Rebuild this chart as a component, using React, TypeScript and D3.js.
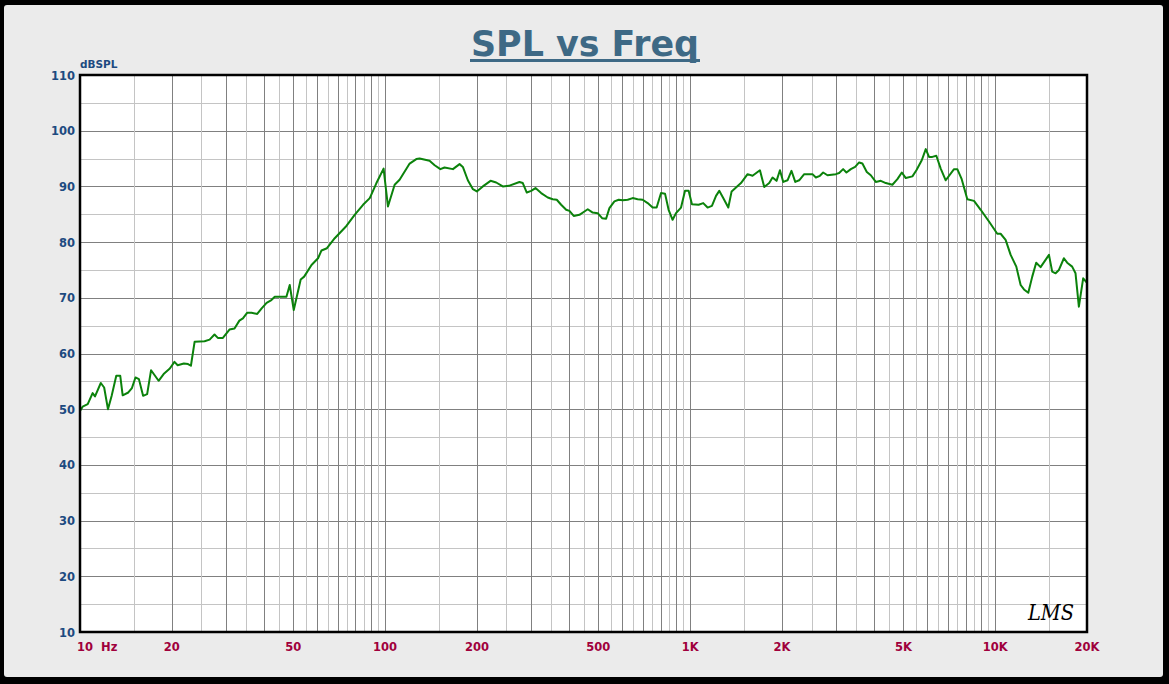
import React from "react";
import * as d3 from "d3";

const freqHz = [
  10, 10.2, 10.6, 11.0, 11.2, 11.7, 12.0, 12.35, 12.7, 13.15, 13.55, 13.8, 14.4, 14.8, 15.2, 15.6, 16.1, 16.6, 17.1, 18.1,
  18.8, 19.7, 20.4, 20.9, 21.9, 22.6, 23.1, 23.75, 25.6, 26.6, 27.6, 28.3, 29.4, 30.9, 32.1, 33.3, 34.2, 35.3, 36.5, 38.1,
  39.4, 40.9, 42.4, 43.5, 45.8, 47.5, 48.7, 50.2, 52.9, 54.3, 57.4, 60.3, 61.9, 64.5, 68.4, 74.7, 79.5, 84.7, 89.1, 93.7,
  98.9, 102.2, 107.5, 111.6, 120.4, 126.6, 129.8, 139.9, 145.4, 151.8, 156.7, 166.9, 175.5, 179.9, 186.8, 194.1, 199.9, 209.2, 221.7, 231.4,
  243.2, 254.5, 275.8, 282.8, 291.5, 301.3, 311.2, 324.9, 341.5, 354.6, 365.5, 377.8, 392.4, 402.2, 415.4, 433.7, 450.4, 461.8, 479.4, 497.8,
  514.6, 530.4, 543.8, 564.7, 583.3, 601.2, 624.3, 648.2, 673.1, 699, 725.8, 753.7, 776.8, 802.9, 827.5, 850.2, 876.2, 899, 933.7, 962.3,
  988.8, 1014, 1066, 1104, 1141, 1179, 1216, 1246, 1284, 1334, 1368, 1414, 1468, 1543, 1602, 1694, 1750, 1817, 1863, 1920,
  1970, 2020, 2086, 2149, 2211, 2278, 2366, 2518, 2584, 2663, 2730, 2820, 3004, 3080, 3174, 3254, 3364, 3475, 3581, 3671,
  3795, 3911, 4061, 4218, 4380, 4604, 4781, 4943, 5094, 5354, 5518, 5746, 5922, 6071, 6224, 6414, 6630, 6885, 7331, 7515,
  7768, 8104, 8524, 8965, 9544, 10160, 10420, 10820, 11240, 11730, 12120, 12430, 12840, 13230, 13630, 14090, 15010, 15380, 15780, 16180,
  16800, 17220, 17880, 18340, 18810, 19430, 20000,
];
const splDb = [
  49.7, 50.45, 50.9, 52.9, 52.3, 54.7, 53.9, 50.0, 52.4, 56.0, 56.0, 52.5, 53.0, 53.8, 55.7, 55.4, 52.4, 52.7, 57.0, 55.1,
  56.3, 57.3, 58.5, 57.9, 58.2, 58.1, 57.8, 62.1, 62.2, 62.5, 63.4, 62.8, 62.8, 64.3, 64.5, 65.9, 66.3, 67.3, 67.3, 67.1,
  68.1, 69.1, 69.6, 70.2, 70.2, 70.2, 72.3, 67.8, 73.3, 73.8, 75.9, 77.1, 78.5, 78.9, 80.7, 82.9, 84.9, 86.7, 87.9, 90.6,
  93.2, 86.4, 90.3, 91.2, 94.1, 94.9, 95.0, 94.6, 93.8, 93.1, 93.4, 93.1, 94.0, 93.5, 91.1, 89.5, 89.1, 90.0, 91.0, 90.7,
  90.0, 90.1, 90.8, 90.6, 88.9, 89.2, 89.7, 88.8, 88.0, 87.7, 87.6, 86.7, 85.8, 85.6, 84.7, 84.9, 85.5, 85.9, 85.3, 85.2,
  84.3, 84.2, 86.1, 87.3, 87.6, 87.5, 87.6, 87.9, 87.7, 87.6, 87.0, 86.2, 86.2, 88.8, 88.7, 85.8, 84.0, 85.2, 86.2, 89.2,
  89.2, 86.8, 86.7, 87.0, 86.2, 86.5, 88.3, 89.2, 87.9, 86.2, 89.1, 89.8, 90.6, 92.2, 91.9, 92.9, 89.9, 90.6, 91.6, 91.0,
  92.9, 90.8, 91.1, 92.8, 90.8, 91.1, 92.2, 92.2, 91.6, 91.9, 92.5, 92.0, 92.2, 92.4, 93.1, 92.5, 93.1, 93.5, 94.3, 94.1,
  92.6, 92.0, 90.8, 91.0, 90.6, 90.3, 91.3, 92.5, 91.5, 91.8, 92.9, 94.7, 96.7, 95.3, 95.3, 95.5, 93.2, 91.1, 93.1, 93.1,
  91.3, 87.7, 87.4, 85.8, 83.7, 81.5, 81.5, 80.4, 77.7, 75.6, 72.3, 71.5, 70.9, 73.8, 76.3, 75.5, 77.7, 74.7, 74.4, 75.0,
  77.1, 76.3, 75.6, 74.4, 68.4, 73.5, 72.7,
];

const xTickValues = [10, 20, 50, 100, 200, 500, 1000, 2000, 5000, 10000, 20000];
const xTickLabels = ["10  Hz", "20", "50", "100", "200", "500", "1K", "2K", "5K", "10K", "20K"];
const yTickValues = [10, 20, 30, 40, 50, 60, 70, 80, 90, 100, 110];
const decades = [10, 100, 1000, 10000];
const multipliers = [1, 1.5, 2, 2.5, 3, 3.5, 4, 4.5, 5, 5.5, 6, 6.5, 7, 7.5, 8, 8.5, 9, 9.5];

const W = 1169;
const H = 684;
const L = 80, R = 1087, T = 75, B = 632;

export default function App() {
  const x = d3.scaleLog().domain([10, 20000]).range([L, R]);
  const y = d3.scaleLinear().domain([10, 110]).range([B, T]);

  const vLines: { v: number; major: boolean }[] = [];
  decades.forEach((dec) => {
    multipliers.forEach((m) => {
      const v = dec * m;
      if (v > 10 && v < 20000) vLines.push({ v, major: Number.isInteger(m) });
    });
  });
  const hLines: { v: number; major: boolean }[] = [];
  for (let v = 15; v < 110; v += 5) hLines.push({ v, major: v % 10 === 0 });

  const pts: [number, number][] = freqHz.map((f, i) => [f, splDb[i]]);
  const line = d3
    .line<[number, number]>()
    .x((d) => x(d[0]))
    .y((d) => y(d[1]));

  const labelFont = "'DejaVu Sans', Verdana, sans-serif";

  return (
    <svg width={W} height={H} style={{ position: "absolute", left: 0, top: 0, display: "block" }}>
      <rect x={0} y={0} width={W} height={H} fill="#000" />
      <rect x={4} y={5} width={W - 10} height={H - 12} fill="#ebebeb" rx={3} />

      <text
        x={585}
        y={56}
        textAnchor="middle"
        fontFamily={labelFont}
        fontWeight="bold"
        fontSize={36}
        fill="#3e6985"
        textLength={228}
        lengthAdjust="spacingAndGlyphs"
      >
        SPL vs Freq
      </text>
      <rect x={470} y={59} width={230} height={3} fill="#3e6985" />

      <rect x={L} y={T} width={R - L} height={B - T} fill="#fff" />

      {hLines.map((h) => (
        <line
          key={"h" + h.v}
          x1={L}
          x2={R}
          y1={Math.round(y(h.v)) + 0.5}
          y2={Math.round(y(h.v)) + 0.5}
          stroke={h.major ? "#808080" : "#c4c4c4"}
          strokeWidth={1}
        />
      ))}
      {vLines.map((v) => (
        <line
          key={"v" + v.v}
          x1={Math.round(x(v.v)) + 0.5}
          x2={Math.round(x(v.v)) + 0.5}
          y1={T}
          y2={B}
          stroke={v.major ? "#808080" : "#c4c4c4"}
          strokeWidth={1}
        />
      ))}

      <path d={line(pts) || ""} fill="none" stroke="#0b820b" strokeWidth={2} strokeLinejoin="round" />

      <rect x={L} y={T} width={R - L} height={B - T} fill="none" stroke="#000" strokeWidth={2.5} />

      <text x={80} y={68} fontFamily={labelFont} fontWeight="bold" fontSize={10.5} fill="#1d4a80">
        dBSPL
      </text>
      {yTickValues.map((v) => (
        <text
          key={"yt" + v}
          x={75}
          y={y(v) + 4.5}
          textAnchor="end"
          fontFamily={labelFont}
          fontWeight="bold"
          fontSize={11.5}
          fill="#1d4a80"
        >
          {v}
        </text>
      ))}
      {xTickValues.map((v, i) => (
        <text
          key={"xt" + v}
          x={i === 0 ? 77 : x(v)}
          y={651}
          textAnchor={i === 0 ? "start" : "middle"}
          fontFamily={labelFont}
          fontWeight="bold"
          fontSize={11.5}
          fill="#a0003c"
          style={{ whiteSpace: "pre" }}
        >
          {xTickLabels[i]}
        </text>
      ))}

      <text
        x={1028}
        y={620}
        fontFamily="'DejaVu Serif', serif"
        fontStyle="italic"
        fontSize={22}
        fill="#000"
        textLength={46}
        lengthAdjust="spacingAndGlyphs"
      >
        LMS
      </text>
    </svg>
  );
}
